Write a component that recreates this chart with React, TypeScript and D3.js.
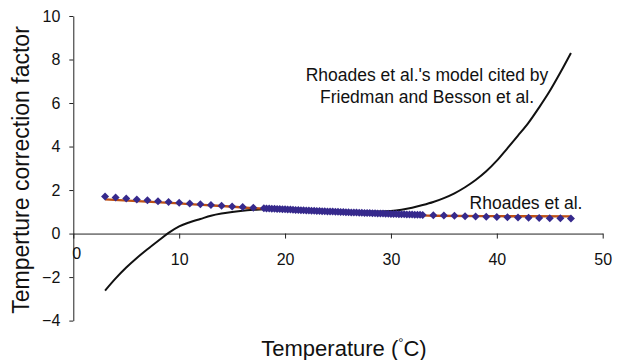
import React, { useEffect, useRef } from "react";
import * as d3 from "d3";

const xTicks = [0, 10, 20, 30, 40, 50];
const yTicks = [-4, -2, 0, 2, 4, 6, 8, 10];

// Rhoades et al. (diamonds)
const rhoadesPoints: [number, number][] = [
  [3, 1.702], [4, 1.656], [5, 1.612], [6, 1.569], [7, 1.528], [8, 1.488], [9, 1.45],
  [10, 1.414], [11, 1.378], [12, 1.344], [13, 1.311], [14, 1.28], [15, 1.249], [16, 1.22], [17, 1.191],
  [18, 1.164], [18.25, 1.158], [18.5, 1.151], [18.75, 1.145],
  [19, 1.138], [19.25, 1.132], [19.5, 1.126], [19.75, 1.119],
  [20, 1.113], [20.25, 1.107], [20.5, 1.101], [20.75, 1.094],
  [21, 1.088], [21.25, 1.082], [21.5, 1.076], [21.75, 1.071],
  [22, 1.065], [22.25, 1.059], [22.5, 1.053], [22.75, 1.048],
  [23, 1.042], [23.25, 1.037], [23.5, 1.031], [23.75, 1.026],
  [24, 1.02], [24.25, 1.015], [24.5, 1.01], [24.75, 1.004],
  [25, 0.999], [25.25, 0.994], [25.5, 0.989], [25.75, 0.984],
  [26, 0.979], [26.25, 0.974], [26.5, 0.97], [26.75, 0.965],
  [27, 0.96], [27.25, 0.955], [27.5, 0.95], [27.75, 0.946],
  [28, 0.941], [28.25, 0.937], [28.5, 0.932], [28.75, 0.928],
  [29, 0.923], [29.25, 0.919], [29.5, 0.914], [29.75, 0.91],
  [30, 0.905], [30.25, 0.901], [30.5, 0.897], [30.75, 0.893],
  [31, 0.889], [31.25, 0.885], [31.5, 0.881], [31.75, 0.877],
  [32, 0.873], [32.25, 0.869], [32.5, 0.865], [32.75, 0.861],
  [33, 0.857],
  [34, 0.842], [35, 0.827], [36, 0.814], [37, 0.8], [38, 0.787], [39, 0.775], [40, 0.763],
  [41, 0.751], [42, 0.74], [43, 0.729], [44, 0.719], [45, 0.709], [46, 0.699], [47, 0.69],
];

// Orange trend line
const trendPoints: [number, number][] = [
  [3, 1.57], [10, 1.39], [17, 1.17], [25, 1.0], [30, 0.9], [34, 0.82], [40, 0.8], [47, 0.79],
];

// Rhoades et al.'s model cited by Friedman and Besson et al. (black curve)
const citedPoints: [number, number][] = [
  [3, -2.62], [4, -2.06], [5, -1.56], [6, -1.12], [7, -0.72], [8, -0.34], [9, 0.03],
  [10, 0.33], [11, 0.52], [12, 0.67], [13, 0.82], [14, 0.92], [15, 0.99], [16, 1.05],
  [17, 1.09], [18, 1.12], [19, 1.12], [20, 1.11], [21, 1.1], [22, 1.08], [23, 1.06],
  [24, 1.05], [25, 1.04], [26, 1.03], [27, 1.02], [28, 1.02], [29, 1.02], [30, 1.04],
  [31, 1.1], [32, 1.19], [33, 1.31], [34, 1.45], [35, 1.63], [36, 1.85], [37, 2.13],
  [38, 2.46], [39, 2.86], [40, 3.35], [41, 3.92], [42, 4.5], [43, 5.1], [44, 5.8],
  [45, 6.55], [46, 7.4], [47, 8.3],
];

const W = 619;
const H = 360;
const FONT = "'Liberation Sans', Arial, Helvetica, sans-serif";

export default function App() {
  const xAxisRef = useRef<SVGGElement>(null);
  const yAxisRef = useRef<SVGGElement>(null);

  const x = d3.scaleLinear().domain([0, 50]).range([73.3, 602.7]);
  const y = d3.scaleLinear().domain([-4, 10]).range([320.6, 16]);

  useEffect(() => {
    const gx = d3.select(xAxisRef.current!);
    gx.call(
      d3.axisBottom(x).tickValues(xTicks).tickSize(5).tickSizeOuter(0).tickPadding(15).tickFormat(d3.format("d"))
    );
    gx.select(".domain").attr("stroke", "#222");
    gx.selectAll(".tick line").attr("stroke", "#222");
    gx.selectAll(".tick text")
      .attr("font-size", 16)
      .attr("font-family", FONT)
      .attr("fill", "#111");
    gx.selectAll<SVGGElement, number>(".tick")
      .filter((d) => d === 0)
      .select("text")
      .attr("x", 3)
      .attr("y", 14);

    const gy = d3.select(yAxisRef.current!);
    gy.call(d3.axisLeft(y).tickValues(yTicks).tickSize(4).tickSizeOuter(0).tickPadding(9).tickFormat(d3.format("d")));
    gy.select(".domain").attr("stroke", "#222");
    gy.selectAll(".tick line").attr("stroke", "#222");
    gy.selectAll(".tick text")
      .attr("font-size", 16)
      .attr("font-family", FONT)
      .attr("fill", "#111");
  }, []);

  const line = d3
    .line<[number, number]>()
    .x((d) => x(d[0]))
    .y((d) => y(d[1]))
    .curve(d3.curveMonotoneX);

  const diamond = (cx: number, cy: number) => {
    const r = 4;
    return `M${cx},${cy - r}L${cx + r},${cy}L${cx},${cy + r}L${cx - r},${cy}Z`;
  };

  return (
    <svg
      width={W}
      height={H}
      style={{ position: "absolute", left: 0, top: 0, background: "#fff" }}
      fontFamily={FONT}
    >
      <g ref={yAxisRef} transform={`translate(${x(0)},0)`} />
      <g ref={xAxisRef} transform={`translate(0,${y(0)})`} />

      <path d={line(citedPoints) || ""} fill="none" stroke="#111" strokeWidth={2} />
      <path d={line(trendPoints) || ""} fill="none" stroke="#be5014" strokeWidth={2.4} />
      <g fill="#36298c">
        {rhoadesPoints.map((p, i) => (
          <path key={i} d={diamond(x(p[0]), y(p[1]))} />
        ))}
      </g>

      <text x={427} y={81} textAnchor="middle" fontSize={17.5} fill="#111">
        Rhoades et al.'s model cited by
      </text>
      <text x={427} y={102.5} textAnchor="middle" fontSize={17.5} fill="#111">
        Friedman and Besson et al.
      </text>
      <text x={526} y={209} textAnchor="middle" fontSize={17.5} fill="#111">
        Rhoades et al.
      </text>

      <text x={344} y={356} textAnchor="middle" fontSize={22} fill="#111">
        Temperature (
        <tspan fontSize={13} dy={-9}>°</tspan>
        <tspan dy={9}>C)</tspan>
      </text>
      <text
        transform="translate(28.5,170) rotate(-90)"
        textAnchor="middle"
        fontSize={23}
        fill="#111"
      >
        Temperture correction factor
      </text>
    </svg>
  );
}
